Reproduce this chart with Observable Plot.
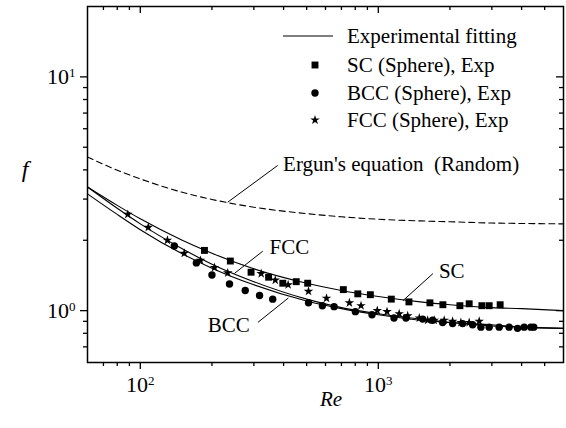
<!DOCTYPE html>
<html><head><meta charset="utf-8">
<script src="https://cdn.jsdelivr.net/npm/d3@7"></script>
<script src="https://cdn.jsdelivr.net/npm/@observablehq/plot@0.6"></script>
<style>
body{margin:0;background:#fff;}
#chart svg{display:block;}
</style>
</head><body><div id="chart"></div>
<script>
// ---- tick values ----
const xMajor = [100, 1000];
const xMinor = [70, 80, 90, 200, 300, 400, 500, 600, 700, 800, 900, 2000, 3000, 4000, 5000];
const yMajor = [1, 10];
const yMinor = [0.7, 0.8, 0.9, 2, 3, 4, 5, 6, 7, 8, 9];

// ---- experimental points ----
const scRe = [186, 239, 292, 346, 397, 452, 505, 713, 820, 926, 1134, 1345, 1648, 1868, 2202, 2409, 2724, 2923, 3251];
const scF  = [1.81, 1.63, 1.46, 1.39, 1.31, 1.33, 1.31, 1.23, 1.18, 1.17, 1.12, 1.09, 1.08, 1.06, 1.05, 1.07, 1.05, 1.05, 1.06];

const bccRe = [139, 172, 200, 237, 276, 317, 360, 509, 582, 652, 801, 941, 1164, 1307, 1536, 1691, 1863, 2052, 2261, 2490, 2698, 2923, 3220, 3545, 3846, 4100, 4374, 4500];
const bccF  = [1.89, 1.60, 1.42, 1.30, 1.22, 1.16, 1.12, 1.08, 1.05, 1.04, 0.99, 0.96, 0.93, 0.93, 0.92, 0.91, 0.89, 0.88, 0.88, 0.87, 0.85, 0.85, 0.85, 0.85, 0.84, 0.85, 0.85, 0.85];

const fccRe = [88.6, 108, 130, 153, 179, 205, 233, 322, 369, 418, 509, 606, 756, 846, 990, 1088, 1224, 1329, 1487, 1612, 1718, 1892, 2052, 2223, 2409, 2654];
const fccF  = [2.58, 2.27, 2.00, 1.76, 1.64, 1.53, 1.45, 1.44, 1.35, 1.29, 1.21, 1.13, 1.08, 1.05, 1.00, 0.99, 0.97, 0.95, 0.93, 0.91, 0.91, 0.91, 0.90, 0.89, 0.89, 0.90];

// ---- curves ----
const curveRe = [60, 80, 100, 150, 200, 300, 500, 700, 1000, 1500, 2000, 3000, 4000, 6000];
const scFit   = [3.38, 2.82, 2.47, 2.00, 1.76, 1.51, 1.31, 1.22, 1.15, 1.09, 1.06, 1.03, 1.02, 1.00];
const fccFit  = [3.38, 2.74, 2.35, 1.84, 1.58, 1.33, 1.12, 1.03, 0.97, 0.92, 0.89, 0.87, 0.85, 0.84];
const bccFit  = [3.16, 2.58, 2.22, 1.75, 1.52, 1.29, 1.10, 1.02, 0.96, 0.91, 0.89, 0.86, 0.85, 0.84];
const ergunF  = [4.54, 3.99, 3.66, 3.21, 2.99, 2.77, 2.60, 2.52, 2.46, 2.42, 2.40, 2.37, 2.36, 2.35];

// ---- annotations ----
const annoText = ["Ergun's equation\u00a0 (Random)", "FCC", "BCC", "SC"];
const annoRe   = [398, 349, 192, 1797];
const annoF    = [4.22, 1.87, 0.862, 1.48];
const leadRe1  = [233, 249, 312, 1270];
const leadF1   = [2.91, 1.445, 0.891, 1.104];
const leadRe2  = [378, 327, 419, 1697];
const leadF2   = [4.18, 1.796, 1.133, 1.441];

const legendLabels = ["Experimental fitting", "SC (Sphere), Exp", "BCC (Sphere), Exp", "FCC (Sphere), Exp"];

const pts = (xs, ys) => xs.map((x, i) => ({Re: x, f: ys[i]}));
const sc = pts(scRe, scF), bcc = pts(bccRe, bccF), fcc = pts(fccRe, fccF);
const scLine = pts(curveRe, scFit), fccLine = pts(curveRe, fccFit), bccLine = pts(curveRe, bccFit), ergun = pts(curveRe, ergunF);
const annos = annoText.map((t, i) => ({t, Re: annoRe[i], f: annoF[i]}));
const leads = leadRe1.map((r, i) => ({x1: r, y1: leadF1[i], x2: leadRe2[i], y2: leadF2[i]}));

const W = 566, H = 428, mL = 87, mR = 3, mT = 6, mB = 66;
const innerW = W - mL - mR, innerH = H - mT - mB;
const expFmt = d => "10^" + Math.round(Math.log10(d));
const FONT = "'Liberation Serif', 'Times New Roman', serif";

const chart = Plot.plot({
  width: W, height: H, marginLeft: mL, marginRight: mR, marginTop: mT, marginBottom: mB,
  style: {fontFamily: FONT, fontSize: "21px", background: "#fff", color: "#000", overflow: "visible"},
  x: {type: "log", domain: [60, 6000]},
  y: {type: "log", domain: [0.6, 20]},
  marks: [
    Plot.axisX(xMajor, {anchor: "bottom", tickSize: 7, tickPadding: 7, tickFormat: expFmt, strokeWidth: 1.3, fontSize: 21, label: null}),
    Plot.axisX(xMinor, {anchor: "bottom", tickSize: 4, tickFormat: () => "", strokeWidth: 1.3, label: null}),
    Plot.axisY(yMajor, {anchor: "left", tickSize: 7, tickPadding: 5, tickFormat: expFmt, strokeWidth: 1.3, fontSize: 21, label: null}),
    Plot.axisY(yMinor, {anchor: "left", tickSize: 4, tickFormat: () => "", strokeWidth: 1.3, label: null}),
    Plot.ruleX(xMajor, {insetBottom: innerH - 7, strokeWidth: 1.3}),
    Plot.ruleX(xMinor, {insetBottom: innerH - 4, strokeWidth: 1.3}),
    Plot.ruleY(yMajor, {insetLeft: innerW - 7, strokeWidth: 1.3}),
    Plot.ruleY(yMinor, {insetLeft: innerW - 4, strokeWidth: 1.3}),
    Plot.line(ergun, {x: "Re", y: "f", stroke: "#000", strokeWidth: 1.1, strokeDasharray: "6,4", curve: "monotone-x"}),
    Plot.line(scLine, {x: "Re", y: "f", stroke: "#000", strokeWidth: 1.1, curve: "monotone-x"}),
    Plot.line(fccLine, {x: "Re", y: "f", stroke: "#000", strokeWidth: 1.1, curve: "monotone-x"}),
    Plot.line(bccLine, {x: "Re", y: "f", stroke: "#000", strokeWidth: 1.1, curve: "monotone-x"}),
    Plot.link(leads, {x1: "x1", y1: "y1", x2: "x2", y2: "y2", stroke: "#000", strokeWidth: 1}),
    Plot.text(annos, {x: "Re", y: "f", text: "t", textAnchor: "start", fontSize: 21, fill: "#000"}),
    Plot.dot(sc, {x: "Re", y: "f", symbol: "square", r: 3.9, fill: "#000", stroke: "none"}),
    Plot.dot(bcc, {x: "Re", y: "f", symbol: "circle", r: 3.7, fill: "#000", stroke: "none"}),
    Plot.dot(fcc, {x: "Re", y: "f", symbol: "star", r: 3, fill: "#000", stroke: "none"}),
    Plot.frame({stroke: "#000", strokeWidth: 1.5})
  ]
});
document.getElementById("chart").appendChild(chart);

const svg = d3.select(chart);
// superscript exponents
svg.selectAll("text").each(function () {
  const m = (this.textContent || "").match(/^10\^(-?\d+)$/);
  if (m) {
    const s = d3.select(this);
    s.style("font-size", "22px").style("font-family", FONT);
    s.text("10");
    s.append("tspan").attr("dy", "-0.55em").style("font-size", "13px").text(m[1]);
  }
});

// axis titles
svg.append("text").attr("x", 25).attr("y", 177).attr("text-anchor", "middle")
  .style("font-family", FONT).style("font-size", "24px").style("font-style", "italic").text("f");
svg.append("text").attr("x", 331).attr("y", 406).attr("text-anchor", "middle")
  .style("font-family", FONT).style("font-size", "21px").style("font-style", "italic").text("Re");

// legend
const lg = svg.append("g").style("font-family", FONT).style("font-size", "21px").attr("fill", "#000").attr("text-anchor", "start");
const rowY = [36, 65, 93, 120];
lg.append("line").attr("x1", 283).attr("x2", 333).attr("y1", rowY[0]).attr("y2", rowY[0]).attr("stroke", "#000").attr("stroke-width", 1.1);
const syms = [null, d3.symbolSquare, d3.symbolCircle, d3.symbolStar];
const rr = [0, 3.9, 3.7, 3];
legendLabels.forEach((t, i) => {
  if (syms[i]) lg.append("path").attr("transform", `translate(315,${rowY[i]})`).attr("d", d3.symbol(syms[i], Math.PI * rr[i] * rr[i])());
  lg.append("text").attr("x", 347).attr("y", rowY[i]).attr("dy", "0.32em").attr("text-anchor", "start").text(t);
});
</script>
</body></html>
